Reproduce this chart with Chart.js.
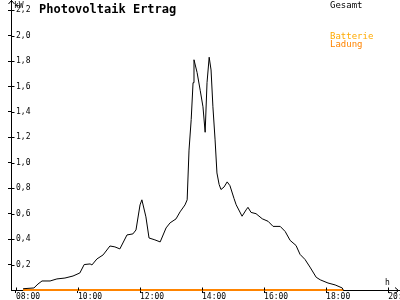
<!DOCTYPE html>
<html>
<head>
<meta charset="utf-8">
<script src="https://cdn.jsdelivr.net/npm/chart.js@4.4.0/dist/chart.umd.min.js"></script>
<style>
html, body { margin: 0; padding: 0; background: #fff; overflow: hidden; }
</style>
</head>
<body>
<canvas id="chart" width="400" height="300"></canvas>
<script>
// time in hours, power in kW
const hours = [8.23, 8.58, 8.71, 8.84, 9.10, 9.32, 9.58, 9.84, 10.06, 10.2, 10.39, 10.45, 10.61, 10.81,
    11.03, 11.19, 11.35, 11.58, 11.77, 11.87, 12.0, 12.06, 12.19, 12.29, 12.48, 12.65, 12.84, 12.97,
    13.16, 13.29, 13.45, 13.52, 13.58, 13.65, 13.71, 13.74, 13.84, 13.94, 14.03, 14.10, 14.16, 14.23,
    14.29, 14.35, 14.42, 14.48, 14.55, 14.61, 14.71, 14.81, 14.90, 15.03, 15.10, 15.29, 15.42, 15.48,
    15.58, 15.74, 15.94, 16.13, 16.29, 16.52, 16.68, 16.84, 17.03, 17.16, 17.32, 17.48, 17.68, 17.81,
    18.06, 18.29, 18.52, 18.55]
const gesamt = [0.01, 0.016, 0.047, 0.071, 0.071, 0.087, 0.094, 0.11, 0.134, 0.2, 0.205, 0.197, 0.244, 0.276,
    0.346, 0.339, 0.323, 0.433, 0.441, 0.472, 0.669, 0.709, 0.575, 0.409, 0.394, 0.378, 0.488, 0.528,
    0.559, 0.614, 0.669, 0.709, 1.10, 1.34, 1.63, 1.81, 1.71, 1.57, 1.44, 1.24, 1.63, 1.83,
    1.73, 1.44, 1.18, 0.92, 0.83, 0.79, 0.81, 0.85, 0.82, 0.72, 0.67, 0.58, 0.63, 0.65,
    0.61, 0.60, 0.56, 0.54, 0.50, 0.50, 0.46, 0.39, 0.35, 0.28, 0.24, 0.18, 0.10, 0.08,
    0.055, 0.04, 0.016, 0.0]

const ladungHours = [8.23, 18.55]
const ladung = [0, 0]

const xTicks = [8, 10, 12, 14, 16, 18, 20]
const yTicks = [0.2, 0.4, 0.6, 0.8, 1.0, 1.2, 1.4, 1.6, 1.8, 2.0, 2.2]

const mono = 'DejaVu Sans Mono'

const toPoints = (xs, ys) => xs.map((x, i) => ({x: x, y: ys[i]}))
const hourLabel = h => String(h).padStart(2, '0') + ':00'

// title, legend, axis arrows, inner tick stubs and units
const overlay = {
    id: 'overlay',
    afterDraw(chart) {
        const ctx = chart.ctx
        const {left, right, top, bottom} = chart.chartArea
        const ax = Math.round(left) + 0.5
        const ay = Math.round(bottom) + 0.5
        ctx.save()
        ctx.strokeStyle = '#000'
        ctx.lineWidth = 1
        ctx.beginPath()
        ctx.moveTo(ax, ay); ctx.lineTo(ax, top)
        ctx.moveTo(ax - 3, top + 4); ctx.lineTo(ax, top + 0.5); ctx.lineTo(ax + 3, top + 4)
        ctx.moveTo(right - 4, ay - 3); ctx.lineTo(right - 0.5, ay); ctx.lineTo(right - 4, ay + 3)
        yTicks.forEach(v => {
            const py = Math.round(chart.scales.y.getPixelForValue(v)) + 0.5
            ctx.moveTo(ax, py); ctx.lineTo(ax + 3, py)
        })
        xTicks.forEach(v => {
            const px = Math.round(chart.scales.x.getPixelForValue(v)) + 0.5
            ctx.moveTo(px, ay); ctx.lineTo(px, ay - 3)
        })
        ctx.stroke()

        ctx.textBaseline = 'alphabetic'
        ctx.textAlign = 'left'
        ctx.fillStyle = '#000'
        ctx.font = 'bold 12px "' + mono + '"'
        ctx.fillText('Photovoltaik Ertrag', 39, 13)
        ctx.font = '8px "' + mono + '"'
        ctx.fillText('kW', 14, 8)
        ctx.fillText('h', 385, 285)
        ctx.font = '9px "' + mono + '"'
        ctx.fillText('Gesamt', 330, 8)
        ctx.fillStyle = '#ffaa00'
        ctx.fillText('Batterie', 330, 39)
        ctx.fillStyle = '#ff8400'
        ctx.fillText('Ladung', 330, 47)
        ctx.restore()
    }
}

new Chart(document.getElementById('chart').getContext('2d'), {
    type: 'line',
    data: {
        datasets: [{
            label: 'Gesamt',
            data: toPoints(hours, gesamt),
            borderColor: '#000',
            borderWidth: 1,
            pointRadius: 0,
            tension: 0
        }, {
            label: 'Ladung',
            data: toPoints(ladungHours, ladung),
            borderColor: '#ff8400',
            borderWidth: 2,
            pointRadius: 0,
            clip: false
        }]
    },
    options: {
        responsive: false,
        animation: false,
        devicePixelRatio: 1,
        layout: {padding: {left: 8, right: 1, top: 0, bottom: 0}},
        plugins: {legend: {display: false}, title: {display: false}, tooltip: {enabled: false}},
        scales: {
            x: {
                type: 'linear',
                min: 7.84,
                max: 20.35,
                afterBuildTicks: scale => { scale.ticks = xTicks.map(v => ({value: v})) },
                afterFit: scale => { scale.paddingLeft = 0; scale.paddingRight = 0; scale.height = 10 },
                grid: {drawOnChartArea: false, tickLength: 3, color: '#000'},
                border: {display: true, color: '#000', width: 1},
                ticks: {
                    align: 'start',
                    padding: 0,
                    maxRotation: 0,
                    autoSkip: false,
                    color: '#000',
                    font: {family: mono, size: 8, lineHeight: 1},
                    callback: v => hourLabel(v)
                }
            },
            y: {
                min: 0,
                max: 2.28,
                afterBuildTicks: scale => { scale.ticks = yTicks.map(v => ({value: v})) },
                afterFit: scale => { scale.paddingTop = 0; scale.paddingBottom = 0; scale.width = 3 },
                grid: {drawOnChartArea: false, tickLength: 3, color: '#000'},
                border: {display: true, color: '#000', width: 1},
                ticks: {
                    mirror: true,
                    padding: 5,
                    color: '#000',
                    font: {family: mono, size: 8, lineHeight: 1},
                    callback: v => v.toFixed(1).replace('.', ',')
                }
            }
        }
    },
    plugins: [overlay]
})
</script>
</body>
</html>
